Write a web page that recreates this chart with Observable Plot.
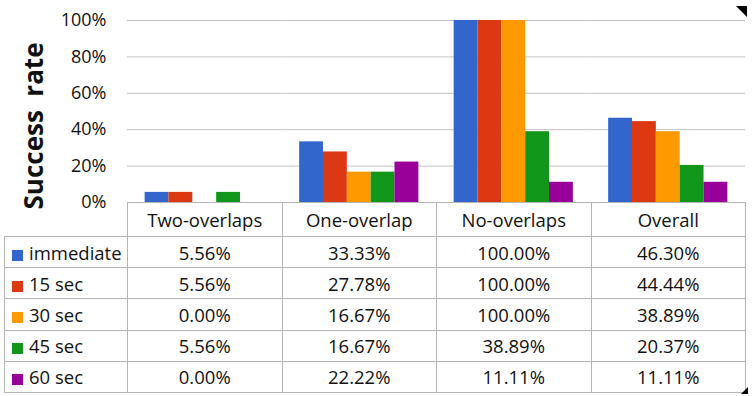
<!DOCTYPE html>
<html>
<head>
<meta charset="utf-8">
<script src="https://cdn.jsdelivr.net/npm/d3@7"></script>
<script src="https://cdn.jsdelivr.net/npm/@observablehq/plot@0.6"></script>
<style>
  html, body { margin: 0; padding: 0; background: #fff; }
  #wrap { position: relative; width: 752px; height: 396px; overflow: hidden; font-family: "Open Sans", sans-serif; color: #111; }
  #chart svg { overflow: visible; }
  #ylabel { position: absolute; left: 33px; top: 126px; transform: translate(-50%, -50%) rotate(-90deg); font-weight: bold; font-size: 26px; white-space: pre; color: #111; line-height: 1; }
  table { position: absolute; left: 4px; top: 202px; border-collapse: collapse; font-size: 18.5px; table-layout: fixed; color: #111; }
  td { border: 1px solid #b4b4b4; padding: 0; text-align: center; box-sizing: border-box; white-space: nowrap; }
  td.lab { text-align: left; padding-left: 7px; }
  td.corner { border-top: none; border-left: none; }
  .sw { display: inline-block; width: 11px; height: 11px; margin-right: 6px; vertical-align: -1px; }
  tr.head td { height: 34px; }
  tr.row td { height: 31.2px; }
  .tri1 { position: absolute; left: 736px; top: 6px; width: 11px; height: 11px; background: #000; clip-path: polygon(0 0, 100% 0, 100% 100%); }
  .tri2 { position: absolute; left: 741px; top: 387px; width: 7px; height: 7px; background: #000; clip-path: polygon(100% 0, 100% 100%, 0 100%); }
</style>
</head>
<body>
<div id="wrap">
  <div id="chart"></div>
  <div id="ylabel"></div>
  <table id="tbl"></table>
  <div class="tri1"></div>
  <div class="tri2"></div>
</div>
<script>
const categories = ["Two-overlaps", "One-overlap", "No-overlaps", "Overall"];
const series = ["immediate", "15 sec", "30 sec", "45 sec", "60 sec"];
const colors = ["#3366CC", "#DC3912", "#FF9900", "#109618", "#990099"];
const immediate = [5.56, 33.33, 100.00, 46.30];
const sec15 = [5.56, 27.78, 100.00, 44.44];
const sec30 = [0.00, 16.67, 100.00, 38.89];
const sec45 = [5.56, 16.67, 38.89, 20.37];
const sec60 = [0.00, 22.22, 11.11, 11.11];
const yTicks = [0, 0.2, 0.4, 0.6, 0.8, 1];
const yLabel = "Success  rate";

const valuesBySeries = [immediate, sec15, sec30, sec45, sec60];
const data = [];
series.forEach((s, i) => categories.forEach((c, j) => data.push({series: s, category: c, value: valuesBySeries[i][j] / 100})));

const chart = Plot.plot({
  width: 752,
  height: 203,
  marginLeft: 127,
  marginRight: 7,
  marginTop: 20,
  marginBottom: 1,
  style: {fontFamily: "Open Sans", fontSize: "18px", color: "#111", background: "transparent", overflow: "visible"},
  fx: {domain: categories, padding: 0, axis: null, round: false},
  x: {domain: series, paddingInner: 0, paddingOuter: 0.74, axis: null, round: false},
  y: {domain: [0, 1]},
  color: {domain: series, range: colors},
  marks: [
    Plot.ruleY(yTicks, {stroke: "#c2c2c2", strokeWidth: 1}),
    Plot.barY(data, {fx: "category", x: "series", y: "value", fill: "series"}),
    Plot.axisY({ticks: yTicks, tickFormat: d3.format(".0%"), tickSize: 0, tickPadding: 21, fontSize: 18, label: null})
  ]
});
document.getElementById("chart").appendChild(chart);
document.getElementById("ylabel").textContent = yLabel;

const tbl = document.getElementById("tbl");
let html = '<colgroup><col style="width:123px">' + categories.map(() => '<col style="width:154.5px">').join("") + '</colgroup>';
html += '<tr class="head"><td class="corner"></td>' + categories.map(c => `<td>${c}</td>`).join("") + '</tr>';
series.forEach((s, i) => {
  html += `<tr class="row"><td class="lab"><span class="sw" style="background:${colors[i]}"></span>${s}</td>` +
    valuesBySeries[i].map(v => `<td>${v.toFixed(2)}%</td>`).join("") + '</tr>';
});
tbl.innerHTML = html;
</script>
</body>
</html>
